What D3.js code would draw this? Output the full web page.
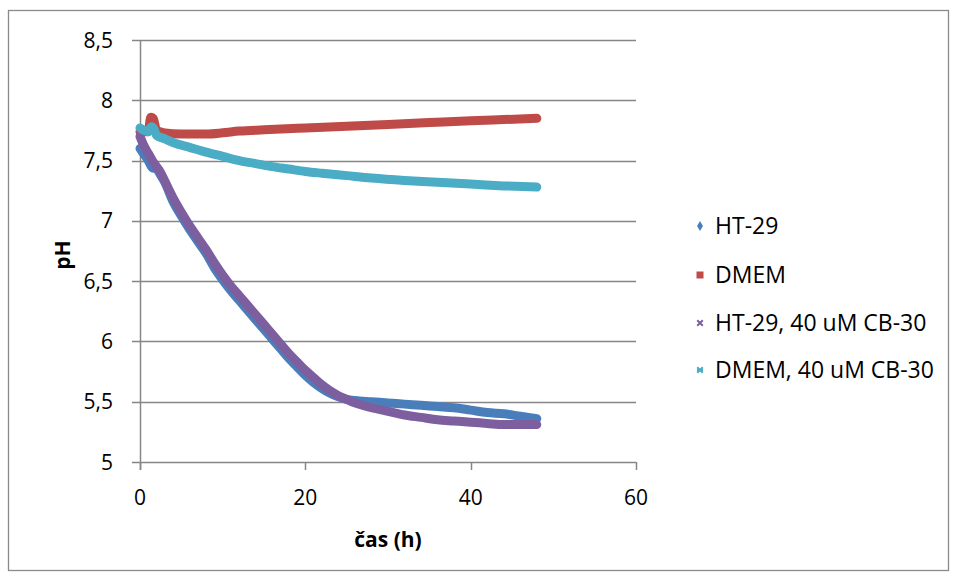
<!DOCTYPE html>
<html>
<head>
<meta charset="utf-8">
<script src="https://cdn.jsdelivr.net/npm/d3@7"></script>
<style>
  html, body { margin: 0; padding: 0; background: #fff; }
  svg { display: block; font-family: "Open Sans", "Noto Sans", sans-serif; }
</style>
</head>
<body>
<svg id="chart" width="957" height="578"></svg>
<script>
// ---- data ----
const seriesNames = ["HT-29", "DMEM", "HT-29, 40 uM CB-30", "DMEM, 40 uM CB-30"];
const seriesColors = ["#4A7EBB", "#BE4B48", "#7D5FA0", "#4AACC5"];

const ht29T  = [0, 0.5, 1, 1.5, 2, 2.5, 3, 4, 5, 6, 7, 8, 9, 10, 11, 12, 13, 14, 15, 16, 17, 18, 19, 20, 21, 22, 23, 24, 25, 26, 28, 30, 32, 34, 36, 38, 40, 42, 44, 46, 48];
const ht29pH = [7.60, 7.55, 7.50, 7.44, 7.43, 7.38, 7.32, 7.16, 7.04, 6.93, 6.83, 6.73, 6.61, 6.51, 6.42, 6.34, 6.26, 6.18, 6.10, 6.02, 5.94, 5.86, 5.79, 5.72, 5.66, 5.61, 5.57, 5.54, 5.52, 5.51, 5.50, 5.49, 5.48, 5.47, 5.46, 5.45, 5.43, 5.41, 5.40, 5.38, 5.36];

const dmemT  = [0, 1, 1.3, 1.6, 2, 3, 5, 8, 10, 12, 15, 20, 25, 30, 35, 40, 44, 48];
const dmemPH = [7.74, 7.74, 7.86, 7.85, 7.75, 7.73, 7.72, 7.72, 7.73, 7.745, 7.755, 7.77, 7.785, 7.80, 7.815, 7.83, 7.84, 7.85];

const ht29cbT  = [0, 0.5, 1, 1.5, 2, 2.5, 3, 4, 5, 6, 7, 8, 9, 10, 11, 12, 13, 14, 15, 16, 17, 18, 19, 20, 21, 22, 23, 24, 25, 26, 28, 30, 32, 34, 36, 38, 40, 42, 44, 46, 48];
const ht29cbPH = [7.70, 7.62, 7.56, 7.50, 7.45, 7.40, 7.33, 7.19, 7.07, 6.96, 6.86, 6.76, 6.65, 6.55, 6.46, 6.38, 6.30, 6.22, 6.14, 6.06, 5.98, 5.90, 5.83, 5.76, 5.70, 5.64, 5.59, 5.55, 5.52, 5.49, 5.45, 5.42, 5.39, 5.37, 5.35, 5.34, 5.33, 5.32, 5.31, 5.31, 5.31];

const dmemcbT  = [0, 1, 1.4, 1.7, 2, 3, 4, 6, 8, 10, 12, 14, 16, 18, 20, 22, 25, 28, 32, 36, 40, 44, 48];
const dmemcbPH = [7.77, 7.74, 7.78, 7.76, 7.71, 7.68, 7.65, 7.61, 7.57, 7.535, 7.50, 7.475, 7.45, 7.43, 7.41, 7.395, 7.375, 7.355, 7.335, 7.32, 7.305, 7.29, 7.28];

const xTicks = [0, 20, 40, 60];
const yTicks = [5, 5.5, 6, 6.5, 7, 7.5, 8, 8.5];
const xTitle = "čas (h)";
const yTitle = "pH";

// ---- layout ----
const svg = d3.select("#chart");
const plot = { left: 140, right: 636, top: 40, bottom: 462 };
const gridColor = "#868686";

const x = d3.scaleLinear().domain([0, 60]).range([plot.left, plot.right]);
const y = d3.scaleLinear().domain([5, 8.5]).range([plot.bottom, plot.top]);

// outer chart border
svg.append("rect")
  .attr("x", 8.5).attr("y", 10.5).attr("width", 940).attr("height", 560)
  .attr("fill", "none").attr("stroke", "#8a8a8a").attr("stroke-width", 1.3);

// horizontal gridlines (with left tick stubs)
svg.append("g").selectAll("line").data(yTicks).join("line")
  .attr("x1", plot.left - 8).attr("x2", plot.right)
  .attr("y1", d => Math.round(y(d)) + 0.5).attr("y2", d => Math.round(y(d)) + 0.5)
  .attr("stroke", gridColor).attr("stroke-width", 1.5);

// y axis line
svg.append("line")
  .attr("x1", plot.left + 0.5).attr("x2", plot.left + 0.5)
  .attr("y1", plot.top).attr("y2", plot.bottom + 8)
  .attr("stroke", gridColor).attr("stroke-width", 1.5);

// x tick marks
svg.append("g").selectAll("line").data(xTicks).join("line")
  .attr("x1", d => Math.round(x(d)) + 0.5).attr("x2", d => Math.round(x(d)) + 0.5)
  .attr("y1", plot.bottom).attr("y2", plot.bottom + 8)
  .attr("stroke", gridColor).attr("stroke-width", 1.5);

// y tick labels
const fmt = d => String(d).replace(".", ",");
svg.append("g").selectAll("text").data(yTicks).join("text")
  .attr("x", 113).attr("y", d => y(d))
  .attr("dy", "0.36em")
  .attr("text-anchor", "end")
  .attr("font-size", 21).attr("fill", "#000")
  .text(fmt);

// x tick labels
svg.append("g").selectAll("text").data(xTicks).join("text")
  .attr("x", d => x(d)).attr("y", 497)
  .attr("dy", "0.36em")
  .attr("text-anchor", "middle")
  .attr("font-size", 21).attr("fill", "#000")
  .text(d => d);

// axis titles
svg.append("text")
  .attr("x", 388).attr("y", 539).attr("dy", "0.36em")
  .attr("text-anchor", "middle")
  .attr("font-size", 21).attr("font-weight", "bold")
  .text(xTitle);

svg.append("text")
  .attr("transform", "translate(62,255) rotate(-90)")
  .attr("dy", "0.36em")
  .attr("text-anchor", "middle")
  .attr("font-size", 21).attr("font-weight", "bold")
  .text(yTitle);

// ---- series ----
const series = [
  { t: ht29T, v: ht29pH },
  { t: dmemT, v: dmemPH },
  { t: ht29cbT, v: ht29cbPH },
  { t: dmemcbT, v: dmemcbPH }
];

const line = d3.line()
  .x(d => x(d[0])).y(d => y(d[1]))
  .curve(d3.curveMonotoneX);

const gSeries = svg.append("g");
series.forEach((s, i) => {
  const pts = s.t.map((t, j) => [t, s.v[j]]);
  gSeries.append("path")
    .datum(pts)
    .attr("d", line)
    .attr("fill", "none")
    .attr("stroke", seriesColors[i])
    .attr("stroke-width", 9)
    .attr("stroke-linecap", "round")
    .attr("stroke-linejoin", "round");
});

// ---- legend ----
const legY = [226, 275, 323, 370];
const leg = svg.append("g");
seriesNames.forEach((name, i) => {
  const cx = 700, cy = legY[i];
  const c = seriesColors[i];
  if (i === 0) {
    leg.append("path").attr("d", d3.symbol(d3.symbolDiamond, 30)())
      .attr("transform", `translate(${cx},${cy})`).attr("fill", c);
  } else if (i === 1) {
    leg.append("rect").attr("x", cx - 3.5).attr("y", cy - 3.5).attr("width", 7).attr("height", 7).attr("fill", c);
  } else if (i === 2) {
    leg.append("path").attr("d", d3.symbol(d3.symbolX, 22)())
      .attr("transform", `translate(${cx},${cy})`).attr("fill", "none")
      .attr("stroke", c).attr("stroke-width", 2);
  } else {
    leg.append("path").attr("d", d3.symbol(d3.symbolX, 22)())
      .attr("transform", `translate(${cx},${cy})`).attr("fill", "none")
      .attr("stroke", c).attr("stroke-width", 2);
    leg.append("line").attr("x1", cx - 3).attr("x2", cx + 3).attr("y1", cy).attr("y2", cy)
      .attr("stroke", c).attr("stroke-width", 2);
  }
  leg.append("text")
    .attr("x", 715).attr("y", cy).attr("dy", "0.36em")
    .attr("font-size", 23).attr("fill", "#000")
    .text(name);
});
</script>
</body>
</html>
